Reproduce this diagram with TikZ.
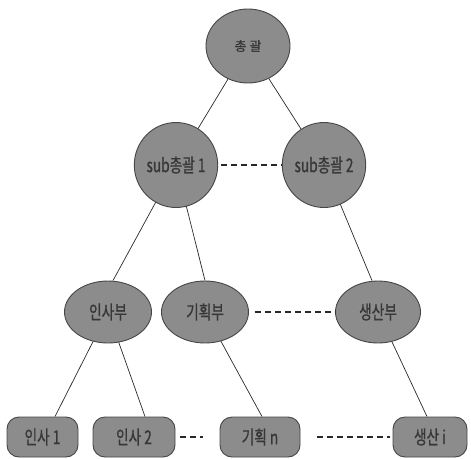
\documentclass[tikz,border=0pt]{standalone}
\usepackage{fontspec}
\newfontfamily\kr[FakeStretch=0.72,FakeBold=0.8]{Noto Sans CJK KR}
\newfontfamily\krn[FakeBold=0.6]{Noto Sans CJK KR}
\usetikzlibrary{shapes.geometric,calc,backgrounds}
\definecolor{nodefill}{RGB}{140,140,140}
\definecolor{nodeline}{RGB}{70,70,70}
\definecolor{nodetext}{RGB}{55,55,55}
\definecolor{edgecol}{RGB}{40,40,40}
\tikzset{
  oval/.style={ellipse, draw=nodeline, line width=0.9pt, fill=nodefill, inner sep=0pt,
    text=nodetext, font=\kr\fontsize{19}{19}\selectfont},
  leaf/.style={rectangle, rounded corners=12pt, draw=nodeline, line width=0.9pt, fill=nodefill,
    inner sep=0pt, minimum height=40pt, text=nodetext, font=\kr\fontsize{19}{19}\selectfont},
  link/.style={draw=edgecol, line width=0.7pt},
  dashlink/.style={draw=edgecol, line width=2.2pt, dash pattern=on 6pt off 4pt},
}
\begin{document}
\begin{tikzpicture}[x=1pt,y=-1pt]
\useasboundingbox (0,0) rectangle (471,458);
% level 1
\node[oval, minimum width=84pt, minimum height=74pt, font=\krn\fontsize{13}{13}\selectfont] (top) at (248,46) {총 괄};
% level 2
\node[oval, minimum width=76pt, minimum height=85pt] (s1) at (176,165) {sub총괄 1};
\node[oval, minimum width=82pt, minimum height=85pt] (s2) at (324,165) {sub총괄 2};
% level 3
\node[oval, minimum width=87pt, minimum height=62pt] (d1) at (108,312) {인사부};
\node[oval, minimum width=87pt, minimum height=62pt] (d2) at (205,312) {기획부};
\node[oval, minimum width=85pt, minimum height=62pt] (d3) at (378,312) {생산부};
% level 4
\node[leaf, minimum width=71pt] (l1) at (42.5,437) {인사 1};
\node[leaf, minimum width=82pt] (l2) at (134,437) {인사 2};
\node[leaf, minimum width=80pt] (l3) at (260,437) {기획 n};
\node[leaf, minimum width=74pt] (l4) at (430,437) {생산 i};
% connectors
\begin{scope}[on background layer]
\draw[link] (top.center) -- (s1.center);
\draw[link] (top.center) -- (s2.center);
\draw[link] (s1.center) -- ($(d1.north)+(5,0)$);
\draw[link] (s1.center) -- (d2.north);
\draw[link] (s2.center) -- ($(d3.north)+(-6,0)$);
\draw[link] (d1.center) -- ($(l1.north)+(12.5,0)$);
\draw[link] (d1.center) -- ($(l2.north)+(11,0)$);
\draw[link] (d2.center) -- ($(l3.north)+(2,0)$);
\draw[link] (d3.center) -- ($(l4.north)+(-3,0)$);
\end{scope}
% dashed links
\draw[dashlink, shorten <=3pt] (s1.east) -- (s2.west);
\draw[dashlink, shorten <=6pt] (d2.east) -- (d3.west);
\draw[dashlink, shorten <=5pt, shorten >=17pt] (l2.east) -- (l3.west);
\draw[dashlink, shorten <=17pt, shorten >=3pt] (l3.east) -- (l4.west);
\end{tikzpicture}
\end{document}
